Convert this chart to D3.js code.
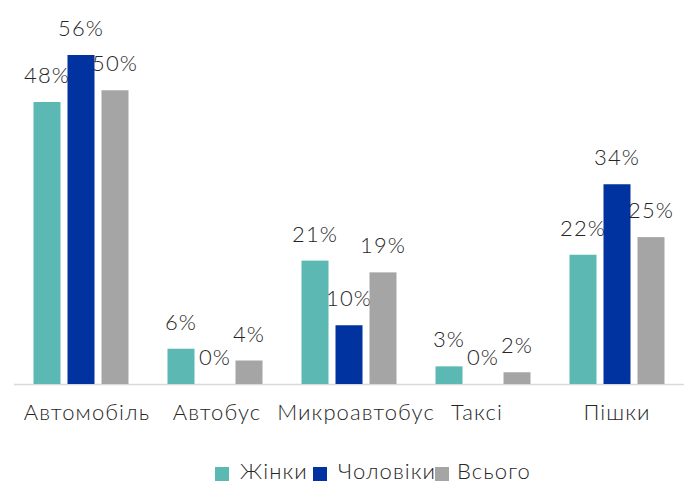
<!DOCTYPE html>
<html><head><meta charset="utf-8">
<script src="https://cdn.jsdelivr.net/npm/d3@7/dist/d3.min.js"></script>
<style>body{margin:0;background:#fff}svg{display:block}text{font-family:Lato,"Open Sans",sans-serif;font-weight:300;fill:#262626;letter-spacing:1.1px}</style>
</head><body><svg id="c" width="691" height="483"></svg>
<script>
const categories = ["Автомобіль","Автобус","Микроавтобус","Таксі","Пішки"];
const seriesNames = ["Жінки","Чоловіки","Всього"];
const women = [48,6,21,3,22];
const men = [56,0,10,0,34];
const total = [50,4,19,2,25];
const colors = ["#5BB8B3","#0033A0","#A5A5A5"];
const seriesValues = [women, men, total];

// layout tweaks (label nudges, legend positions)
const catLabelDx = [6, 2, 7, -6, 0];
const legSquareX = [215, 313, 435];
const legTextX = [240, 338, 457];

const svg = d3.select("#c");
const x = d3.scaleBand().domain(categories).range([14,684]).paddingInner(0).paddingOuter(0);
const xs = d3.scaleBand().domain(seriesNames).range([19.5, x.bandwidth()-19.5]).paddingInner(7/34).paddingOuter(0);
const y = d3.scaleLinear().domain([0,56]).range([384,55]);

svg.append("line").attr("x1",14).attr("x2",684).attr("y1",y(0)+0.5).attr("y2",y(0)+0.5).attr("stroke","#d9d9d9").attr("stroke-width",1.5);

seriesNames.forEach((s,si)=>{
  const g = svg.append("g");
  categories.forEach((c,ci)=>{
    const v = seriesValues[si][ci];
    const bx = x(c)+xs(s);
    g.append("rect").attr("x",bx).attr("y",y(v)).attr("width",xs.bandwidth()).attr("height",y(0)-y(v)).attr("fill",colors[si]);
    g.append("text").attr("x",bx+xs.bandwidth()/2).attr("y",y(v)-19).attr("text-anchor","middle").attr("font-size",22).text(v+"%");
  });
});

svg.append("g").selectAll("text").data(categories).join("text")
  .attr("x",(d,i)=>x(d)+x.bandwidth()/2+catLabelDx[i]).attr("y",420).attr("text-anchor","middle").attr("font-size",22).text(d=>d);

const leg = svg.append("g");
seriesNames.forEach((s,i)=>{
  leg.append("rect").attr("x",legSquareX[i]).attr("y",467).attr("width",14).attr("height",14).attr("fill",colors[i]);
  leg.append("text").attr("x",legTextX[i]).attr("y",479).attr("font-size",22).text(s);
});
</script></body></html>
